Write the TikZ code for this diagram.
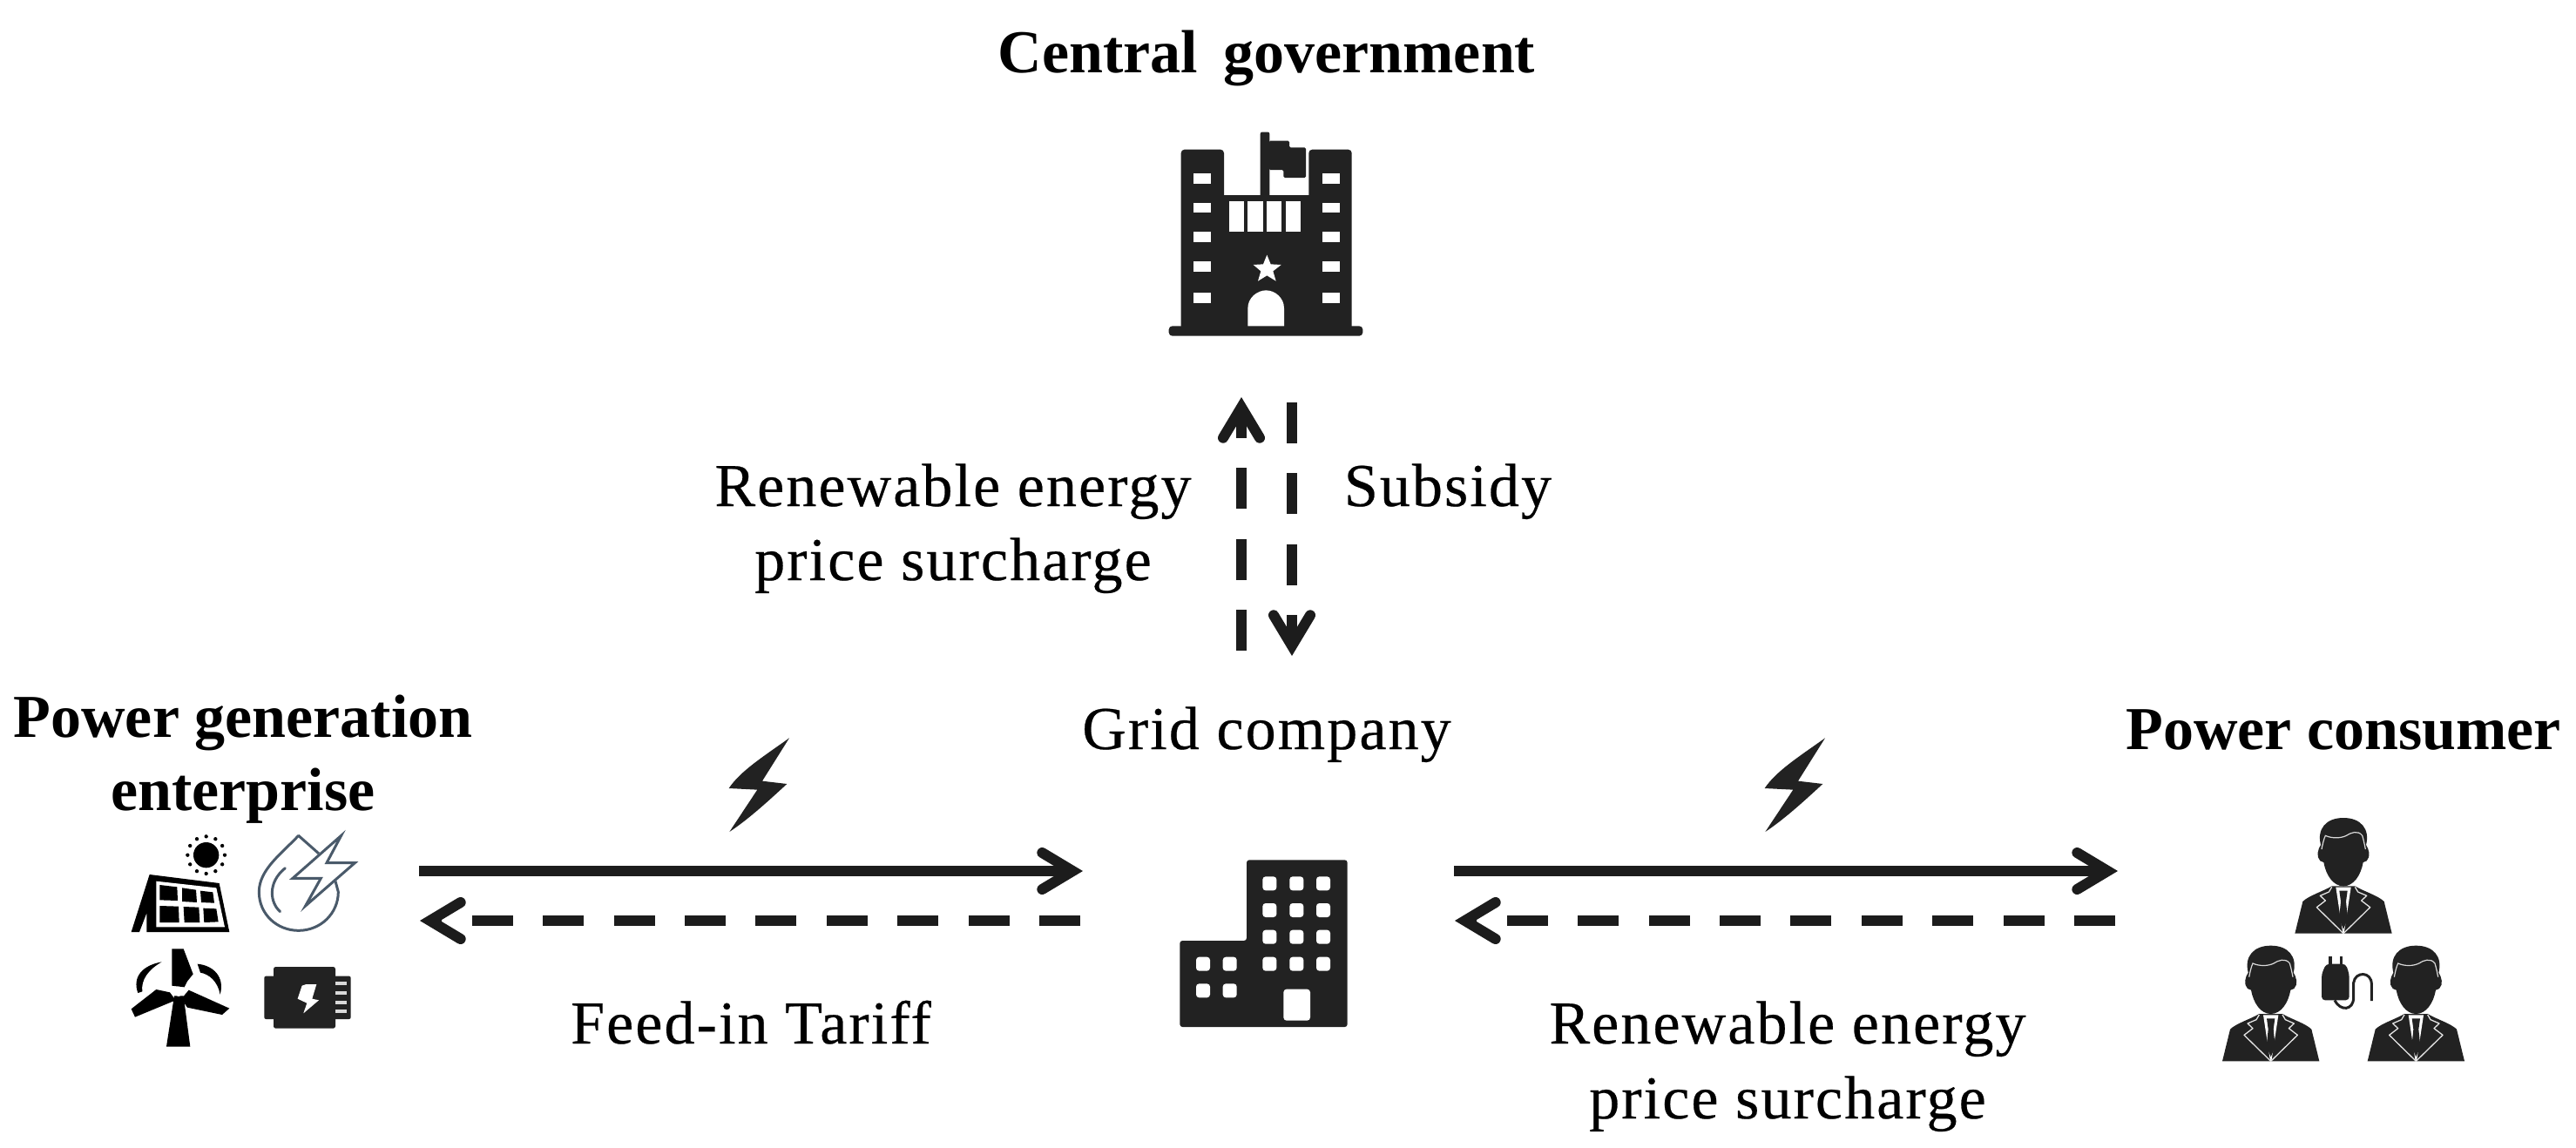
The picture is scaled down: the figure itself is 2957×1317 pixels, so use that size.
\documentclass[tikz,border=0pt]{standalone}
\usepackage{fontspec}
\setmainfont{Liberation Serif}
\newfontfamily\labelfont[LetterSpace=3,FakeBold=0.35]{Liberation Serif}
\usetikzlibrary{arrows.meta}
\definecolor{ink}{HTML}{222222}
\definecolor{lineink}{HTML}{1C1C1C}
\definecolor{flameink}{HTML}{4A5A6A}
\tikzset{
  icon/.style 2 args={shift={(#1pt,-#2pt)},x=0.33333pt,y=-0.33333pt},
  flow/.style={draw=lineink,line width=12pt,-{Straight Barb[length=35pt,width=42pt,line width=12pt,line cap=round,line join=miter]}},
  money/.style={flow,dash pattern=on 47pt off 34.4pt},
  label/.style={anchor=base,text=black,font=\labelfont\fontsize{70}{84}\selectfont,inner sep=0pt},
  title/.style={anchor=base,text=black,inner sep=0pt,font=\fontsize{70}{84}\selectfont\bfseries},
}
\newcommand{\boltshape}{\fill[ink] (258,22) .. controls (170,85) and (90,135) .. (50,195) -- (148,200) -- (52,345) .. controls (120,300) and (190,235) .. (250,180) -- (165,170) -- cycle;}
\newcommand{\persona}[1]{%
\begin{scope}[shift={(#1)}]
\fill[ink] (-78,150) .. controls (-92,95) and (-60,57) .. (0,57) .. controls (60,57) and (92,95) .. (78,150) .. controls (88,165) and (95,190) .. (80,205) -- (68,210) .. controls (60,255) and (35,292) .. (0,292) .. controls (-35,292) and (-60,255) .. (-68,210) -- (-80,205) .. controls (-95,190) and (-88,165) .. (-78,150) -- cycle;
\draw[white!85!black,line width=1.2pt] (-75,165) .. controls (-72,150) and (-68,130) .. (-62,118) .. controls (-40,128) and (-10,128) .. (10,118) .. controls (25,108) and (50,98) .. (65,118) .. controls (70,135) and (73,150) .. (76,165);
\fill[ink] (-167,455) -- (-140,345) .. controls (-120,325) and (-70,310) .. (-40,292) -- (40,292) .. controls (70,310) and (120,325) .. (140,345) -- (167,455) -- cycle;
\fill[white] (-26,296) -- (26,296) -- (2,455) -- (-2,455) -- cycle;
\fill[ink] (-14,308) -- (14,308) -- (9,345) -- (15,405) -- (0,440) -- (-15,405) -- (-9,345) -- cycle;
\draw[white!90!black,line width=1.3pt,line join=round] (-40,295) -- (-50,312) -- (-80,325) -- (-62,342) -- (-92,365) -- (0,455) -- (92,365) -- (62,342) -- (80,325) -- (50,312) -- (40,295);
\end{scope}}

\begin{document}
\begin{tikzpicture}[x=1pt,y=-1pt]
\useasboundingbox (0,0) rectangle (2957,1317);
\fill[white] (0,0) rectangle (2957,1317);

% ---- named anchors for connectors
\coordinate (genPowerOut) at (481,1000);
\coordinate (gridPowerIn) at (1243,1000);
\coordinate (gridMoneyOut) at (1240,1057);
\coordinate (genMoneyIn) at (482,1057);
\coordinate (gridPowerOut) at (1669,1000);
\coordinate (userPowerIn) at (2431,1000);
\coordinate (userMoneyOut) at (2428,1057);
\coordinate (gridMoneyIn) at (1670,1057);
\coordinate (gridUp) at (1425,747);
\coordinate (govIn) at (1425,456);
\coordinate (govOut) at (1483,462);
\coordinate (gridDown) at (1483,753);

% ---- connectors
\draw[flow] (genPowerOut) -- (gridPowerIn);
\draw[money] (gridMoneyOut) -- (genMoneyIn);
\draw[flow] (gridPowerOut) -- (userPowerIn);
\draw[money] (userMoneyOut) -- (gridMoneyIn);
\draw[money] (gridUp) -- (govIn);
\draw[money] (govOut) -- (gridDown);

% ---- labels
\node[title] (govLabel) at (1454,83) {Central\hspace{12pt} government};
\node[label] (surA1) at (1094,581) {Renewable energy};
\node[label] (surA2) at (1094,666) {price surcharge};
\node[label] (subsidy) at (1662,581) {Subsidy};
\node[title] (genLabel1) at (279,846) {Power generation};
\node[title] (genLabel2) at (279,930) {enterprise};
\node[label] (gridLabel) at (1454,860) {Grid company};
\node[title] (userLabel) at (2690,860) {Power consumer};
\node[label] (fit) at (862,1198) {Feed-in Tariff};
\node[label] (surB1) at (2052,1198) {Renewable energy};
\node[label] (surB2) at (2052,1284) {price surcharge};

% ---- lightning
\begin{scope}[icon={820}{840}] \boltshape \end{scope}
\begin{scope}[icon={2009}{840}] \boltshape \end{scope}

% ---- government building
\begin{scope}[icon={1300}{130}]
\fill[ink,rounded corners=4pt] (125,733) rectangle (793,767);
\fill[ink,rounded corners=4pt] (167,125) rectangle (315,745);
\fill[ink,rounded corners=4pt] (607,125) rectangle (755,745);
\fill[ink] (300,283) rectangle (620,745);
\fill[ink,rounded corners=2pt] (440,290) -- (440,65) -- (472,65) -- (472,290) -- cycle;
\fill[ink,rounded corners=1.5pt] (470,95) -- (540,95) -- (540,118) -- (597,118) -- (597,222) -- (520,222) -- (520,195) -- (470,195) -- cycle;
\foreach \yy/\yb in {207/243,308/343,408/443,510/545,618/653}{
  \fill[white] (210,\yy) rectangle (270,\yb);
  \fill[white] (653,\yy) rectangle (713,\yb);
}
\fill[white] (332,302) rectangle (385,408);
\fill[white] (397,302) rectangle (450,408);
\fill[white] (461,302) rectangle (514,408);
\fill[white] (527,302) rectangle (579,408);
\fill[white] (463,488) -- (476,520) -- (512,522) -- (484,544) -- (494,578) -- (463,559) -- (432,578) -- (442,544) -- (416,522) -- (450,520) -- cycle;
\fill[white] (397,733) -- (397,672) .. controls (397,635) and (430,610) .. (460,610) .. controls (490,610) and (522,635) .. (522,672) -- (522,733) -- cycle;
\end{scope}

% ---- grid company building
\begin{scope}[icon={1320}{960}]
\fill[ink,rounded corners=3pt] (103,360) -- (333,360) -- (333,82) -- (680,82) -- (680,657) -- (103,657) -- cycle;
\foreach \wx in {412,505,597}{\foreach \wy in {163,255,347,440}{
  \fill[white,rounded corners=3.5pt] (\wx-24,\wy-24) rectangle (\wx+24,\wy+24);}}
\foreach \wx in {183,275}{\foreach \wy in {440,532}{
  \fill[white,rounded corners=3.5pt] (\wx-24,\wy-24) rectangle (\wx+24,\wy+24);}}
\fill[white,rounded corners=3.5pt] (460,527) rectangle (552,635);
\end{scope}

% ---- generation icons
\begin{scope}[icon={120}{930}]
% solar
\fill[black] (155,222) -- (395,252) -- (430,420) -- (145,420) -- (145,355) -- (120,420) -- (92,420) -- cycle;
\fill[white] (178,245) -- (385,268) -- (414,403) -- (178,403) -- cycle;
\fill[black] (190,258) -- (250,265) -- (252,312) -- (190,310) -- cycle;
\fill[black] (267,268) -- (315,275) -- (318,318) -- (267,315) -- cycle;
\fill[black] (330,278) -- (373,283) -- (378,320) -- (333,318) -- cycle;
\fill[black] (190,330) -- (255,332) -- (257,387) -- (190,387) -- cycle;
\fill[black] (272,333) -- (325,335) -- (328,387) -- (275,387) -- cycle;
\fill[black] (340,338) -- (385,340) -- (392,385) -- (343,387) -- cycle;
\fill[black] (350,155) circle[radius=44];
\foreach \aa in {0,30,...,330}{\fill[black] (350,155) ++(\aa:64) circle[radius=6.5];}
% hydro-power flame
\draw[flameink,line width=3pt,line join=round] (738,150) -- (668,88) .. controls (610,150) and (532,205) .. (532,282) .. controls (532,360) and (595,415) .. (668,415) .. controls (745,415) and (805,355) .. (805,282) -- (795,245);
\draw[flameink,line width=3pt,line cap=round] (622,200) .. controls (560,250) and (570,320) .. (605,350);
\draw[flameink,line width=3pt,line join=miter,fill=white] (815,88) -- (648,235) -- (745,235) -- (692,330) -- (862,182) -- (765,182) -- cycle;
% wind turbine
\fill[black] (240,640) -- (272,640) -- (295,815) -- (213,815) -- cycle;
\fill[black] (232,478) -- (272,478) -- (305,565) -- (285,590) -- (275,610) -- (232,605) -- cycle;
\fill[black] (92,685) -- (178,618) -- (225,628) -- (245,655) -- (105,713) -- cycle;
\fill[black] (290,620) -- (430,683) -- (405,705) -- (285,680) -- (265,650) -- cycle;
\fill[white] (255,625) circle[radius=17];
\fill[black] (197,523) .. controls (130,535) and (95,575) .. (115,630) -- (130,625) .. controls (125,585) and (150,550) .. (197,523) -- cycle;
\fill[black] (320,530) .. controls (375,535) and (415,575) .. (398,635) .. controls (390,590) and (360,565) .. (330,560) -- cycle;
% battery
\fill[ink,rounded corners=2.5pt] (582,540) rectangle (795,752);
\fill[ink,rounded corners=2pt] (550,572) rectangle (600,720);
\fill[ink,rounded corners=2pt] (780,572) rectangle (848,720);
\foreach \yy in {592,624,656,688}{\fill[white!85!black] (795,\yy) rectangle (835,\yy+12);}
\fill[white] (695,600) -- (730,600) -- (715,650) -- (738,655) -- (685,700) -- (697,665) -- (665,650) -- (680,605) -- cycle;
\end{scope}

% ---- consumers
\begin{scope}[icon={2520}{920}]
\persona{510,0}
\persona{260,440}
\persona{760,440}
\fill[ink,rounded corners=4pt] (435,685) -- (435,595) -- (450,560) -- (518,560) -- (530,595) -- (530,685) -- cycle;
\fill[ink] (460,535) rectangle (471,565);
\fill[ink] (497,535) rectangle (508,565);
\draw[ink,line width=3pt] (480,685) .. controls (500,725) and (545,720) .. (545,675) -- (545,625) .. controls (550,585) and (607,585) .. (607,630) -- (607,687);
\end{scope}
\end{tikzpicture}
\end{document}
